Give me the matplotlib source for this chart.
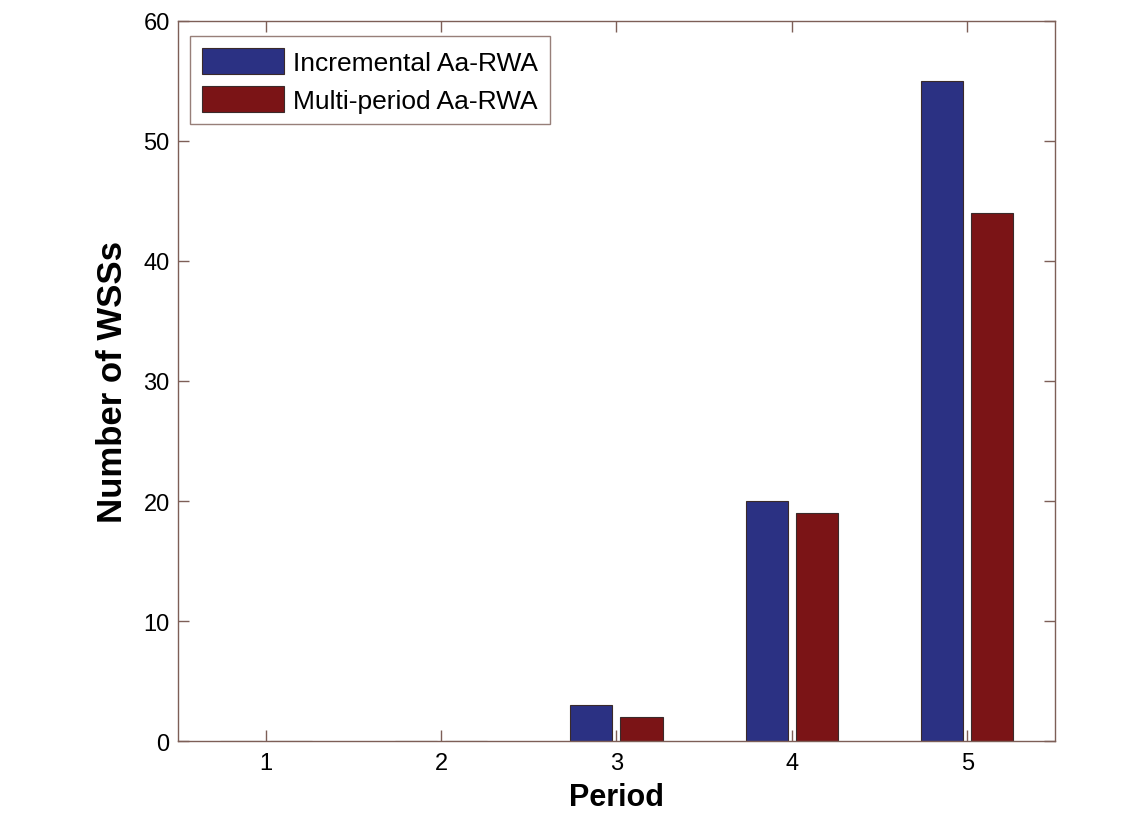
"""Grouped bar chart: number of WSSs per period."""

import numpy as np
import matplotlib
matplotlib.use("Agg")
import matplotlib.pyplot as plt

periods = [1, 2, 3, 4, 5]
incremental = [0, 0, 3, 20, 55]
multi_period = [0, 0, 2, 19, 44]
series_labels = ["Incremental Aa-RWA", "Multi-period Aa-RWA"]

plt.rcParams['font.family'] = ['Liberation Sans', 'DejaVu Sans']

spine_color = "#7d5f57"
blue = "#2b3183"
red = "#7b1416"

fig = plt.figure(figsize=(11.38, 8.2), dpi=100)
ax = fig.add_axes([0.1564, 0.0951, 0.7706, 0.8781])

x = np.array(periods)
width = 0.24
offset = 0.143
ax.bar(x - offset, incremental, width, color=blue, edgecolor="#3a2a2a",
       linewidth=0.8, label=series_labels[0])
ax.bar(x + offset, multi_period, width, color=red, edgecolor="#3a2a2a",
       linewidth=0.8, label=series_labels[1])

ax.set_xlim(0.5, 5.5)
ax.set_ylim(0, 60)
ax.set_xticks(periods)
ax.set_yticks(range(0, 61, 10))

for s in ax.spines.values():
    s.set_color(spine_color)
    s.set_linewidth(1.0)
ax.tick_params(direction="in", length=8, width=1.0, color=spine_color,
               labelsize=17, top=True, right=True)
ax.tick_params(axis="y", pad=6)
ax.tick_params(axis="x", pad=8)

ax.set_xlabel("Period", fontsize=22, fontweight="bold", labelpad=6)
ax.set_ylabel("Number of WSSs", fontsize=25, fontweight="bold", labelpad=10)

leg = ax.legend(loc="upper left", fontsize=19, fancybox=False,
                handlelength=3.1, handleheight=1.15, borderpad=0.45,
                labelspacing=0.4, handletextpad=0.35, borderaxespad=0,
                bbox_to_anchor=(0.014, 0.979))
leg.get_frame().set_edgecolor(spine_color)
leg.get_frame().set_linewidth(1.0)

fig.savefig("out.png", dpi=100)
plt.close(fig)
